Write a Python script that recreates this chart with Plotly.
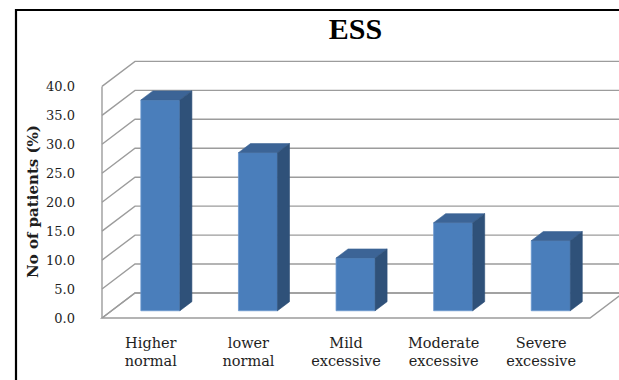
import plotly.graph_objects as go

# ---- data -------------------------------------------------------------
categories = ["Higher<br>normal", "lower<br>normal", "Mild<br>excessive",
              "Moderate<br>excessive", "Severe<br>excessive"]
values = [36.4, 27.3, 9.1, 15.2, 12.1]
y_ticks = [0, 5, 10, 15, 20, 25, 30, 35, 40]
y_tick_text = [f"{v:.1f}" for v in y_ticks]

# ---- geometry of the pseudo-3D frame ---------------------------------
W, H = 619, 380
slot_px = 97.6          # width of one category slot on the front edge
unit_px = 5.79          # pixels per percentage point
origin_px = (102, 318)  # front-left corner of the floor
plot_left, plot_bottom = 92, 328

wall_dx = 33 / slot_px   # oblique depth of walls, in axis units
wall_dy = 25 / unit_px
bar_width = 0.40         # fraction of a slot
bar_front = 0.29         # depth where the bar's front face sits (0..1)
bar_depth = 0.364        # depth of a bar (fraction of wall depth)

n = len(values)
x_lo, x_hi = -0.5, n - 0.5

x_range = [-0.5 - (origin_px[0] - plot_left) / slot_px,
           -0.5 + (W - origin_px[0]) / slot_px]
y_range = [-(plot_bottom - origin_px[1]) / unit_px, origin_px[1] / unit_px]

grid_color = "#9c9c9c"
face_color = "#4A7EBB"
top_color = "#3C6496"
side_color = "#2F5179"


def path(points, close=False):
    s = "M " + " L ".join(f"{x:.4f},{y:.4f}" for x, y in points)
    return s + (" Z" if close else "")


# floor, walls and gridlines sit underneath the bars
frame = [dict(type="path", xref="x", yref="y", layer="below",
              path=path([(x_lo, 0), (x_hi, 0), (x_hi + wall_dx, wall_dy),
                         (x_lo + wall_dx, wall_dy)], close=True),
              fillcolor="white", line=dict(color=grid_color, width=1.4))]
for v in y_ticks:
    frame.append(dict(type="path", xref="x", yref="y", layer="below",
                      path=path([(x_lo, v), (x_lo + wall_dx, v + wall_dy),
                                 (x_hi + wall_dx + 1, v + wall_dy)]),
                      line=dict(color=grid_color, width=1.4)))
# front edge of the side wall
frame.append(dict(type="path", xref="x", yref="y", layer="below",
                  path=path([(x_lo, 0), (x_lo, y_ticks[-1])]),
                  line=dict(color=grid_color, width=1.4)))

fig = go.Figure()

# bars: front faces
dx0, dy0 = bar_front * wall_dx, bar_front * wall_dy
bdx, bdy = bar_depth * wall_dx, bar_depth * wall_dy
fig.add_trace(go.Bar(
    x=list(range(n)), y=values, base=[dy0] * n,
    width=bar_width, offset=-bar_width / 2 + dx0,
    marker=dict(color=face_color, line=dict(color="#6A98CF", width=0.8)),
    hovertemplate="%{y:.1f}%<extra></extra>"))

# bars: top and side faces
tx, ty, sx, sy = [], [], [], []
for i, v in enumerate(values):
    xl = i - bar_width / 2 + dx0
    xr = xl + bar_width
    yb = dy0
    yt = dy0 + v
    tx += [xl, xr, xr + bdx, xl + bdx, xl, None]
    ty += [yt, yt, yt + bdy, yt + bdy, yt, None]
    sx += [xr, xr, xr + bdx, xr + bdx, xr, None]
    sy += [yb, yt, yt + bdy, yb + bdy, yb, None]
fig.add_trace(go.Scatter(x=tx, y=ty, mode="lines", fill="toself",
                         fillcolor=top_color,
                         line=dict(color=top_color, width=0.6),
                         hoverinfo="skip"))
fig.add_trace(go.Scatter(x=sx, y=sy, mode="lines", fill="toself",
                         fillcolor=side_color,
                         line=dict(color=side_color, width=0.6),
                         hoverinfo="skip"))

paper_w = W - plot_left
paper_h = plot_bottom

border = dict(type="rect", xref="paper", yref="paper",
              x0=(16 - plot_left) / paper_w, x1=1.2,
              y0=-0.5, y1=(plot_bottom - 10) / paper_h,
              line=dict(color="black", width=2.2),
              fillcolor="rgba(0,0,0,0)", layer="above")

fig.update_layout(
    width=W, height=H,
    margin=dict(l=plot_left, r=0, t=0, b=H - plot_bottom, pad=0),
    paper_bgcolor="white", plot_bgcolor="rgba(0,0,0,0)",
    showlegend=False,
    font=dict(family="DejaVu Serif", color="#1e1e1e"),
    title=dict(text="<b>ESS</b>", xref="container", yref="container",
               x=355.5 / W, y=1 - 28 / H, xanchor="center", yanchor="middle",
               font=dict(family="Liberation Serif", size=30, color="black")),
    xaxis=dict(range=x_range, tickvals=list(range(n)), ticktext=categories,
               showgrid=False, zeroline=False, showline=False, ticks="",
               ticklabelstandoff=4, tickfont=dict(size=14.5),
               fixedrange=True),
    yaxis=dict(range=y_range, tickvals=y_ticks, ticktext=y_tick_text,
               showgrid=False, zeroline=False, showline=False, ticks="",
               ticklabelstandoff=16, tickfont=dict(size=13),
               fixedrange=True),
    annotations=[dict(
        text="<b>No of patients (%)</b>", textangle=-90,
        xref="paper", yref="paper",
        x=(33 - plot_left) / paper_w, y=(plot_bottom - 202) / paper_h,
        xanchor="center", yanchor="middle", showarrow=False,
        font=dict(size=15, color="#1e1e1e"))],
    shapes=frame + [border],
)

fig.write_html("out.html", config={"displayModeBar": False})
